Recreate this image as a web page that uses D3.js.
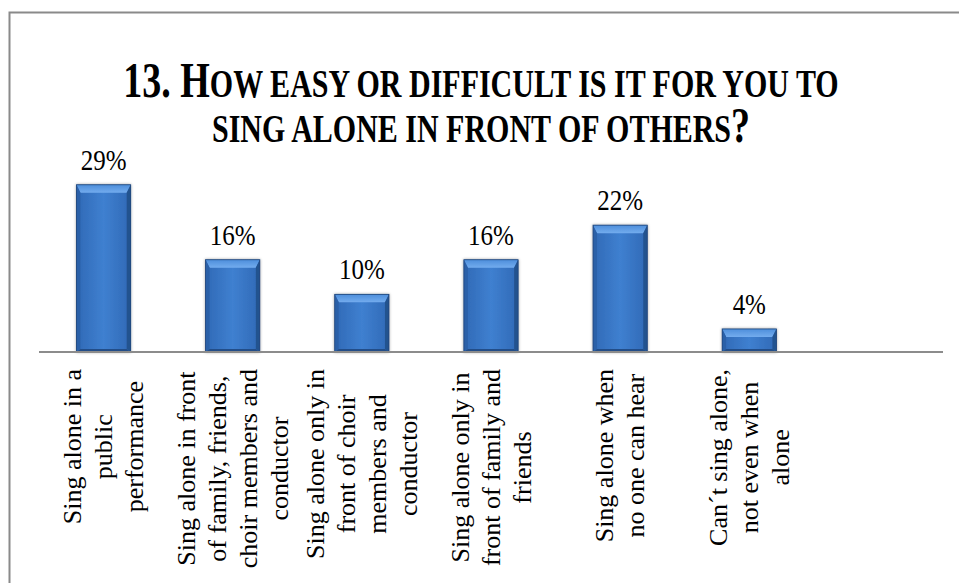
<!DOCTYPE html>
<html>
<head>
<meta charset="utf-8">
<script src="https://cdn.jsdelivr.net/npm/d3@7"></script>
<style>
  html, body { margin: 0; padding: 0; background: #fff; }
  svg { display: block; }
  text { font-family: "Liberation Serif", "Times New Roman", serif; fill: #000; }
</style>
</head>
<body>
<svg id="chart" width="959" height="583"></svg>
<script>
// Survey answers, one bar per option (last slot on the axis is left empty)
const categories = [
  ["Sing alone in a", "public", "performance"],
  ["Sing alone in front", "of family, friends,", "choir members and", "conductor"],
  ["Sing alone only in", "front of choir", "members and", "conductor"],
  ["Sing alone only in", "front of family and", "friends"],
  ["Sing alone when", "no one can hear"],
  ["Can´t sing alone,", "not even when", "alone"]
];
const values = [29, 16, 10, 16, 22, 4];
const slots = 7;

const titleLine1 = [{ t: "13. H", big: true }, { t: "OW EASY OR DIFFICULT IS IT FOR YOU TO", big: false }];
const titleLine2 = [{ t: "SING ALONE IN FRONT OF OTHERS", big: false }, { t: "?", big: true }];

const W = 959, H = 583;
const axisY = 352, axisX0 = 39, axisX1 = 943;

const svg = d3.select("#chart");

// frame (only left and top edges fall inside the page)
svg.append("path")
  .attr("d", `M9.5,${H + 5} V12.5 H${W + 5}`)
  .attr("fill", "none").attr("stroke", "#8a8a8a").attr("stroke-width", 2);

// title with small caps built from two sizes, in a tall narrow face
const bigSize = 38, smallSize = 30, stretch = 1.35;
function titleLine(parts, y) {
  const t = svg.append("text")
    .attr("transform", `translate(481,${y}) scale(1,${stretch})`)
    .attr("text-anchor", "middle").attr("font-weight", "bold");
  parts.forEach(p => t.append("tspan").attr("font-size", p.big ? bigSize : smallSize).text(p.t));
}
titleLine(titleLine1, 97);
titleLine(titleLine2, 142);

const x = d3.scaleBand()
  .domain(d3.range(slots))
  .range([axisX0, axisX1])
  .paddingInner(0.58).paddingOuter(0.29);

const y = d3.scaleLinear().domain([0, 30]).range([axisY, axisY - 173]);

// bevel gradients
const defs = svg.append("defs");
const face = defs.append("linearGradient").attr("id", "face").attr("x1", 0).attr("x2", 1).attr("y1", 0).attr("y2", 0);
face.append("stop").attr("offset", 0).attr("stop-color", "#3069b6");
face.append("stop").attr("offset", 0.5).attr("stop-color", "#3f80d0");
face.append("stop").attr("offset", 1).attr("stop-color", "#3069b6");
const topG = defs.append("linearGradient").attr("id", "topb").attr("x1", 0).attr("x2", 0).attr("y1", 0).attr("y2", 1);
topG.append("stop").attr("offset", 0).attr("stop-color", "#4d8edb");
topG.append("stop").attr("offset", 1).attr("stop-color", "#73acee");
const shadow = defs.append("filter").attr("id", "shadow").attr("x", "-20%").attr("y", "-20%").attr("width", "140%").attr("height", "140%");
shadow.append("feGaussianBlur").attr("in", "SourceAlpha").attr("stdDeviation", 1.5).attr("result", "b");
shadow.append("feComponentTransfer").attr("in", "b").attr("result", "s")
  .append("feFuncA").attr("type", "linear").attr("slope", 0.35);
const merge = shadow.append("feMerge");
merge.append("feMergeNode").attr("in", "s");
merge.append("feMergeNode").attr("in", "SourceGraphic");

const bt = 8, bs = 4, bb = 3;
const bars = svg.append("g").selectAll("g").data(values).join("g").attr("filter", "url(#shadow)");
bars.each(function (v, i) {
  const g = d3.select(this);
  const x0 = x(i), x1 = x(i) + x.bandwidth(), y0 = y(v), y1 = y(0);
  g.append("rect").attr("x", x0).attr("y", y0).attr("width", x1 - x0).attr("height", y1 - y0).attr("fill", "url(#face)");
  g.append("path").attr("d", `M${x0},${y0} L${x1},${y0} L${x1 - bs},${y0 + bt} L${x0 + bs},${y0 + bt} Z`).attr("fill", "url(#topb)");
  g.append("path").attr("d", `M${x0},${y0} L${x0 + bs},${y0 + bt} L${x0 + bs},${y1 - bb} L${x0},${y1} Z`).attr("fill", "#2c60a8");
  g.append("path").attr("d", `M${x1},${y0} L${x1 - bs},${y0 + bt} L${x1 - bs},${y1 - bb} L${x1},${y1} Z`).attr("fill", "#24528f");
  g.append("path").attr("d", `M${x0},${y1} L${x0 + bs},${y1 - bb} L${x1 - bs},${y1 - bb} L${x1},${y1} Z`).attr("fill", "#234e88");
  g.append("rect").attr("x", x0).attr("y", y0).attr("width", x1 - x0).attr("height", y1 - y0)
    .attr("fill", "none").attr("stroke", "#1d4377").attr("stroke-width", 0.8);
});

// value labels
svg.append("g").selectAll("text").data(values).join("text")
  .attr("transform", (d, i) => `translate(${x(i) + x.bandwidth() / 2},${y(d) - 15}) scale(1,1.15)`)
  .attr("text-anchor", "middle").attr("font-size", 25)
  .text(d => d + "%");

// category axis line
svg.append("line").attr("x1", axisX0).attr("x2", axisX1).attr("y1", axisY).attr("y2", axisY)
  .attr("stroke", "#8c8c8c").attr("stroke-width", 2);

// rotated, centred multi-line category labels hanging below the axis
const lh = 31, labTop = 369, labSize = 26;
categories.forEach((lines, i) => {
  const cx = x(i) + x.bandwidth() / 2;
  const g = svg.append("g");
  const texts = lines.map(ln => g.append("text").attr("font-size", labSize)
    .attr("text-anchor", "middle").attr("dominant-baseline", "central").text(ln));
  const maxLen = d3.max(texts, t => t.node().getComputedTextLength());
  const cy = labTop + maxLen / 2;
  texts.forEach((t, k) => {
    const lx = cx + (k - (lines.length - 1) / 2) * lh;
    t.attr("transform", `translate(${lx},${cy}) rotate(-90)`);
  });
});
</script>
</body>
</html>
